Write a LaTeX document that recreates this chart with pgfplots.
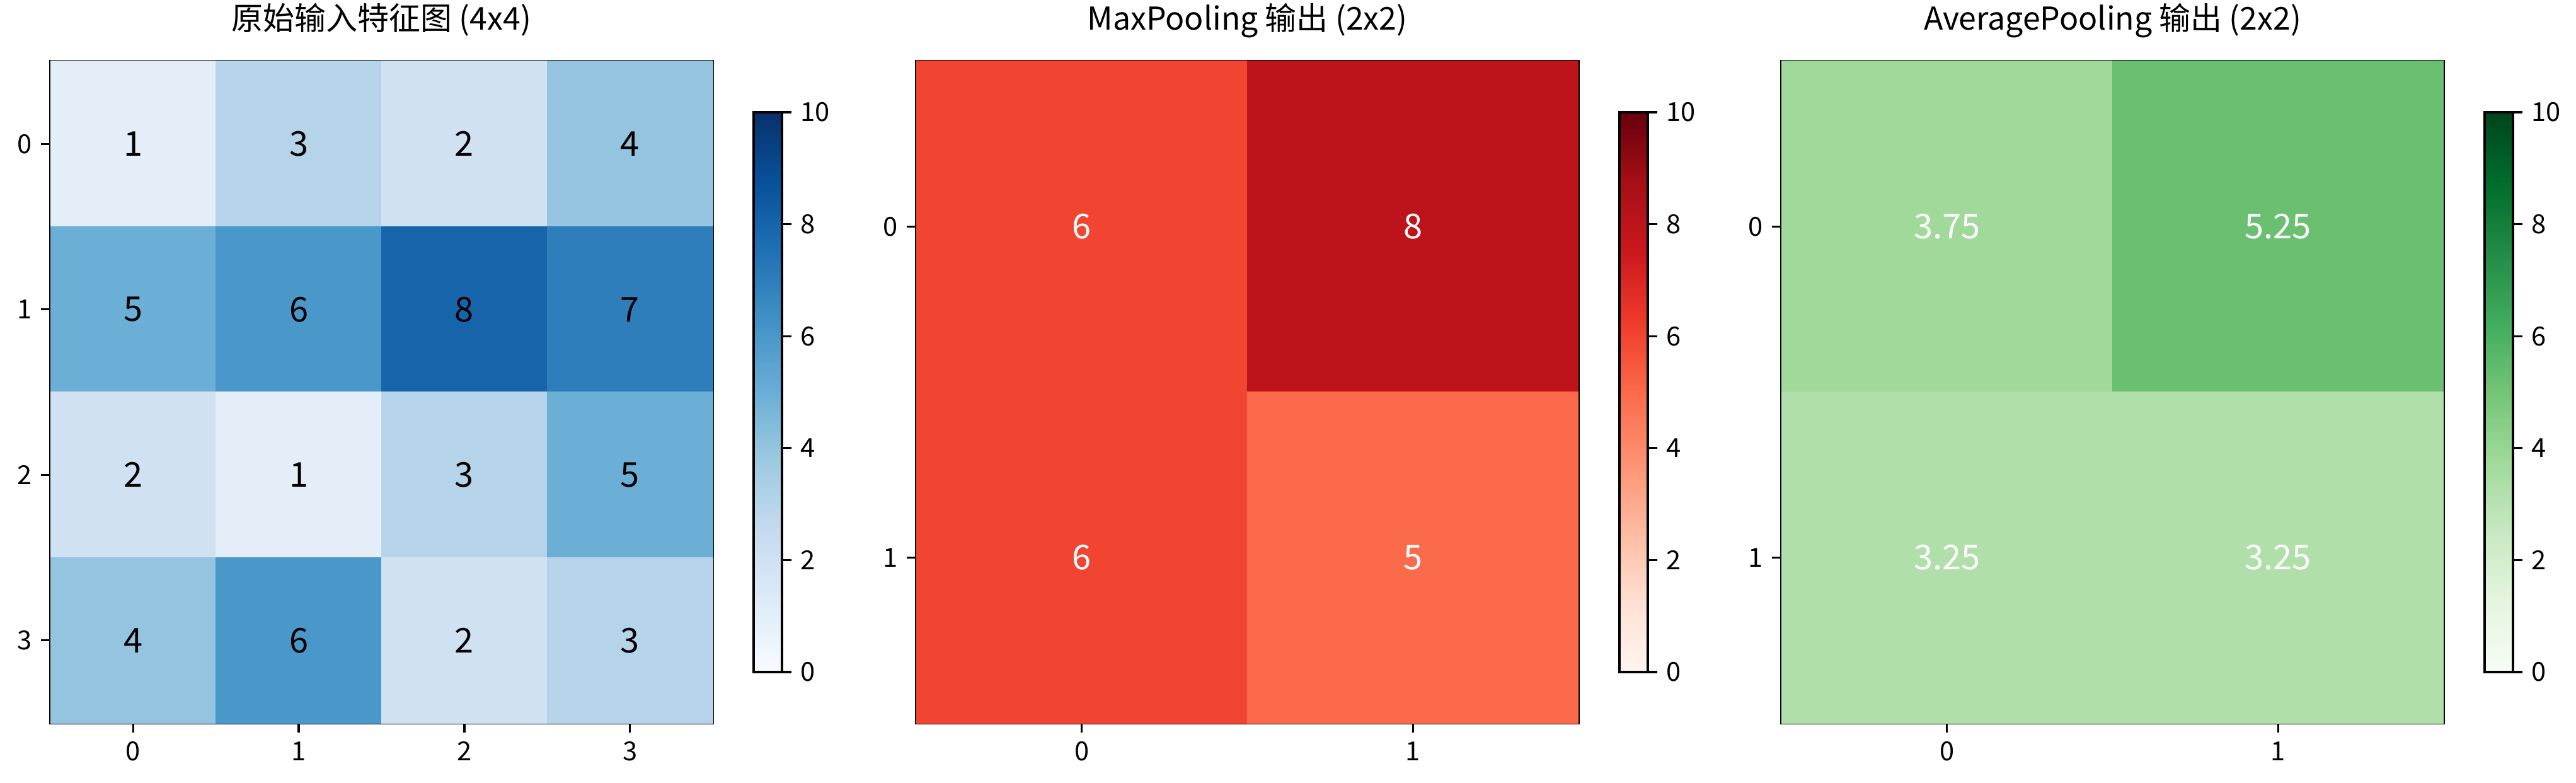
\documentclass[border=0pt]{standalone}
\usepackage{fontspec}
\setmainfont{Noto Sans CJK SC}
\usepackage{pgfplots}
\pgfplotsset{compat=1.18}

% matplotlib Blues / Reds / Greens
\pgfplotsset{
  colormap={blues}{rgb255=(247,251,255) rgb255=(222,235,247) rgb255=(198,219,239) rgb255=(158,202,225) rgb255=(107,174,214) rgb255=(66,146,198) rgb255=(33,113,181) rgb255=(8,81,156) rgb255=(8,48,107)},
  colormap={reds}{rgb255=(255,245,240) rgb255=(254,224,210) rgb255=(252,187,161) rgb255=(252,146,114) rgb255=(251,106,74) rgb255=(239,59,44) rgb255=(203,24,29) rgb255=(165,15,21) rgb255=(103,0,13)},
  colormap={greens}{rgb255=(247,252,245) rgb255=(229,245,224) rgb255=(199,233,192) rgb255=(161,217,155) rgb255=(116,196,118) rgb255=(65,171,93) rgb255=(35,139,69) rgb255=(0,109,44) rgb255=(0,68,27)},
}

\newcommand\ticksz{\fontsize{10}{12}\selectfont}

\pgfplotsset{
  hm/.style={
    scale only axis,
    width=252.24pt, height=252pt,
    anchor=south west,
    enlargelimits=false,
    y dir=reverse,
    axis on top,
    tick align=outside,
    tick pos=left,
    major tick length=3.5pt,
    axis line style={line width=0.8pt},
    every tick/.style={black, line width=0.8pt},
    tick label style={font=\ticksz},
    /pgf/number format/assume math mode=true,
    title style={font=\fontsize{12}{14}\selectfont, at={(0.5,1)}, anchor=base, yshift=6pt},
    point meta min=0, point meta max=10,
    colorbar,
    colorbar style={
      at={(1.0618,0.5)}, anchor=west,
      scale only axis,
      width=10.8pt, height=213.1pt,
      ytick={0,2,...,10},
      tick align=outside,
      ytick pos=right, yticklabel pos=right,
      major tick length=3.5pt,
      axis line style={line width=0.8pt},
      every tick/.style={black, line width=0.8pt},
      yticklabel style={font=\ticksz},
      /pgf/number format/assume math mode=true,
    },
  },
  hmtext/.style={
    draw=none, mark=none,
    nodes near coords, nodes near coords align={center},
    every node near coord/.append style={font=\fontsize{13}{15}\selectfont, text=#1, anchor=center,
      /pgf/number format/assume math mode=true},
  },
}

\pgfplotstableread{
x y v
0 0 1
1 0 3
2 0 2
3 0 4
0 1 5
1 1 6
2 1 8
3 1 7
0 2 2
1 2 1
2 2 3
3 2 5
0 3 4
1 3 6
2 3 2
3 3 3
}\inputmap

\pgfplotstableread{
x y v
0 0 6
1 0 8
0 1 6
1 1 5
}\maxpool

\pgfplotstableread{
x y v
0 0 3.75
1 0 5.25
0 1 3.25
1 1 3.25
}\avgpool

\begin{document}
\begin{tikzpicture}
\path[use as bounding box] (0,0) rectangle (981.12pt,297.84pt);

% panel 1: input
\begin{axis}[hm, at={(19.2pt,22.56pt)},
  colormap name=blues,
  title={原始输入特征图 (4x4)},
  xmin=-0.5, xmax=3.5, ymin=-0.5, ymax=3.5,
  xtick={0,1,2,3}, ytick={0,1,2,3}]
\addplot[scatter, only marks, mark=square*, mark size=31.45pt,
  scatter/use mapped color={draw=mapped color, fill=mapped color},
  point meta=explicit] table[x=x, y=y, meta=v] {\inputmap};
\addplot[hmtext=black, point meta=explicit] table[x=x, y=y, meta=v] {\inputmap};
\end{axis}

% panel 2: max pooling
\begin{axis}[hm, at={(348.96pt,22.56pt)},
  colormap name=reds,
  title={MaxPooling 输出 (2x2)},
  xmin=-0.5, xmax=1.5, ymin=-0.5, ymax=1.5,
  xtick={0,1}, ytick={0,1}]
\addplot[scatter, only marks, mark=square*, mark size=62.95pt,
  scatter/use mapped color={draw=mapped color, fill=mapped color},
  point meta=explicit] table[x=x, y=y, meta=v] {\maxpool};
\addplot[hmtext=white, point meta=explicit] table[x=x, y=y, meta=v] {\maxpool};
\end{axis}

% panel 3: average pooling
\begin{axis}[hm, at={(678.48pt,22.56pt)},
  colormap name=greens,
  title={AveragePooling 输出 (2x2)},
  xmin=-0.5, xmax=1.5, ymin=-0.5, ymax=1.5,
  xtick={0,1}, ytick={0,1}]
\addplot[scatter, only marks, mark=square*, mark size=62.95pt,
  scatter/use mapped color={draw=mapped color, fill=mapped color},
  point meta=explicit] table[x=x, y=y, meta=v] {\avgpool};
\addplot[hmtext=white, point meta=explicit] table[x=x, y=y, meta=v] {\avgpool};
\end{axis}
\end{tikzpicture}
\end{document}
